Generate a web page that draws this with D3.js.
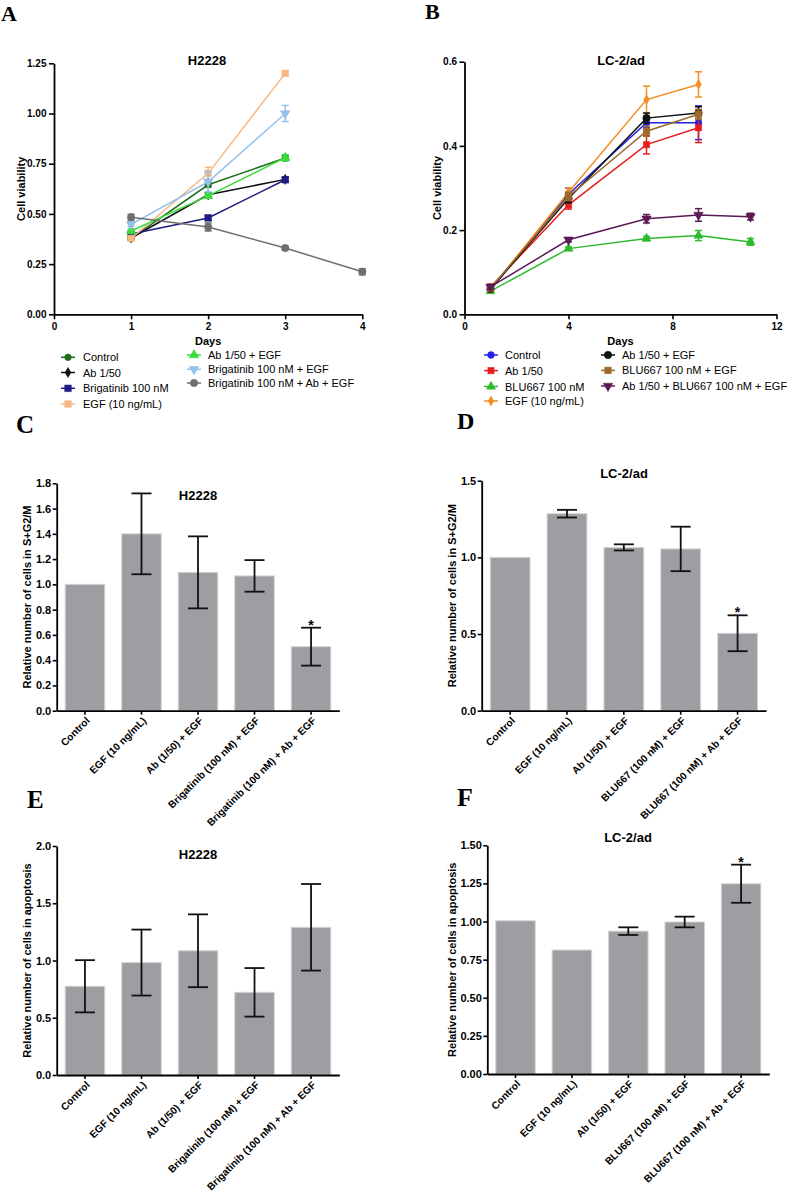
<!DOCTYPE html>
<html><head><meta charset="utf-8">
<script src="https://cdn.jsdelivr.net/npm/d3@7"></script>
<style>body{margin:0;background:#fff} text{font-family:"Liberation Sans",Arial,sans-serif}</style>
</head><body><svg id="c" width="787" height="1196"></svg>
<script>
// ---------- DATA ----------
// Panel A (H2228 viability)
const daysA = [1, 2, 3];
const daysA4 = [1, 2, 3, 4];
const namesA = ["Control", "Ab 1/50", "Brigatinib 100 nM", "EGF (10 ng/mL)", "Ab 1/50 + EGF", "Brigatinib 100 nM + EGF", "Brigatinib 100 nM + Ab + EGF"];
const aControl = [0.378, 0.645, 0.778];
const aControlErr = [0.008, 0.01, 0.012];
const aAb = [0.38, 0.595, 0.672];
const aAbErr = [0.008, 0.01, 0.01];
const aBrig = [0.40, 0.48, 0.67];
const aBrigErr = [0.01, 0.012, 0.012];
const aEgf = [0.378, 0.702, 1.20];
const aEgfErr = [0.01, 0.03, 0.01];
const aAbEgf = [0.415, 0.59, 0.78];
const aAbEgfErr = [0.01, 0.012, 0.015];
const aBrigEgf = [0.448, 0.66, 1.00];
const aBrigEgfErr = [0.01, 0.05, 0.04];
const aBrigAbEgf = [0.483, 0.435, 0.33, 0.212];
const aBrigAbEgfErr = [0.015, 0.02, 0.008, 0.015];
const ticksAy = [0, 0.25, 0.5, 0.75, 1.0, 1.25];
const ticksAx = [0, 1, 2, 3, 4];

// Panel B (LC-2/ad viability)
const daysB = [1, 4, 7, 9];
const daysB5 = [1, 4, 7, 9, 11];
const namesB = ["Control", "Ab 1/50", "BLU667 100 nM", "EGF (10 ng/mL)", "Ab 1/50 + EGF", "BLU667 100 nM + EGF", "Ab 1/50 + BLU667 100 nM + EGF"];
const bControl = [0.058, 0.285, 0.455, 0.455];
const bControlErr = [0.005, 0.015, 0.012, 0.04];
const bAb = [0.065, 0.26, 0.403, 0.443];
const bAbErr = [0.005, 0.01, 0.022, 0.035];
const bBlu = [0.055, 0.156, 0.18, 0.187, 0.172];
const bBluErr = [0.004, 0.004, 0.005, 0.012, 0.008];
const bEgf = [0.06, 0.29, 0.51, 0.546];
const bEgfErr = [0.005, 0.01, 0.032, 0.03];
const bAbEgf = [0.06, 0.275, 0.466, 0.478];
const bAbEgfErr = [0.005, 0.01, 0.012, 0.015];
const bBluEgf = [0.062, 0.28, 0.435, 0.475];
const bBluEgfErr = [0.005, 0.01, 0.012, 0.012];
const bAbBluEgf = [0.065, 0.177, 0.227, 0.236, 0.232];
const bAbBluEgfErr = [0.006, 0.005, 0.01, 0.015, 0.008];
const ticksBy = [0, 0.2, 0.4, 0.6];
const ticksBx = [0, 4, 8, 12];

// Bar panels
const catsH = ["Control", "EGF (10 ng/mL)", "Ab (1/50) + EGF", "Brigatinib (100 nM) + EGF", "Brigatinib (100 nM) + Ab + EGF"];
const catsL = ["Control", "EGF (10 ng/mL)", "Ab (1/50) + EGF", "BLU667 (100 nM) + EGF", "BLU667 (100 nM) + Ab + EGF"];
const cVals = [1.0, 1.40, 1.095, 1.067, 0.507];
const cErr = [0, 0.32, 0.285, 0.125, 0.15];
const dVals = [1.0, 1.285, 1.065, 1.055, 0.505];
const dErr = [0, 0.025, 0.02, 0.145, 0.117];
const eVals = [0.775, 0.982, 1.085, 0.722, 1.29];
const eErr = [0.228, 0.288, 0.318, 0.212, 0.378];
const fVals = [1.005, 0.813, 0.937, 0.997, 1.248];
const fErr = [0, 0, 0.025, 0.035, 0.125];
const ticksC = [0, 0.2, 0.4, 0.6, 0.8, 1.0, 1.2, 1.4, 1.6, 1.8];
const ticksD = [0, 0.5, 1.0, 1.5];
const ticksE = [0, 0.5, 1.0, 1.5, 2.0];
const ticksF = [0, 0.25, 0.5, 0.75, 1.0, 1.25, 1.5];

// ---------- DRAWING ----------
const svg = d3.select("#c");
svg.append("rect").attr("width", 787).attr("height", 1196).attr("fill", "#fff");

function styleAxis(a, fs) {
  a.select(".domain").attr("stroke", "#000").attr("stroke-width", 1.8);
  a.selectAll(".tick line").attr("stroke", "#000").attr("stroke-width", 1.6);
  a.selectAll(".tick text").attr("fill", "#000").style("font-weight", "bold")
    .style("font-size", fs + "px").style("font-family", '"Liberation Sans",Arial,sans-serif');
}

function symPath(kind, size) {
  const types = {circle: d3.symbolCircle, square: d3.symbolSquare, diamond: d3.symbolDiamond, tri: d3.symbolTriangle, triDown: d3.symbolTriangle};
  return d3.symbol().type(types[kind]).size(size)();
}
function addMarker(g, kind, cx, cy, color, size) {
  g.append("path").attr("d", symPath(kind, size))
    .attr("transform", `translate(${cx},${cy})` + (kind === "triDown" ? " rotate(180)" : ""))
    .attr("fill", color).attr("stroke", color).attr("stroke-width", 0.5);
}

function panelLetter(t, x, y, fs) {
  svg.append("text").attr("x", x).attr("y", y).text(t)
    .style("font-family", '"Liberation Serif","Times New Roman",serif')
    .style("font-weight", "bold").style("font-size", fs + "px");
}
function title(t, x, y) {
  svg.append("text").attr("x", x).attr("y", y).attr("text-anchor", "middle").text(t)
    .style("font-weight", "bold").style("font-size", "13px");
}
function yLabel(t, x, y) {
  svg.append("text").attr("transform", `translate(${x},${y}) rotate(-90)`)
    .attr("text-anchor", "middle").attr("dy", "0.35em").text(t)
    .style("font-weight", "bold").style("font-size", "11px");
}

function lineChart(cfg) {
  const g = svg.append("g");
  const x = d3.scaleLinear().domain(cfg.xDomain).range(cfg.xRange);
  const y = d3.scaleLinear().domain(cfg.yDomain).range(cfg.yRange);
  const ya = g.append("g").attr("transform", `translate(${cfg.xRange[0]},0)`)
    .call(d3.axisLeft(y).tickValues(cfg.yTicks).tickFormat(d3.format(cfg.yFmt)).tickSize(5).tickSizeOuter(0).tickPadding(2.5));
  const xa = g.append("g").attr("transform", `translate(0,${cfg.yRange[0]})`)
    .call(d3.axisBottom(x).tickValues(cfg.xTicks).tickFormat(d3.format("d")).tickSize(5).tickSizeOuter(0).tickPadding(4));
  styleAxis(ya, 10); styleAxis(xa, 10);
  g.append("text").attr("x", (cfg.xRange[0] + cfg.xRange[1]) / 2).attr("y", cfg.yRange[0] + 31)
    .attr("text-anchor", "middle").text("Days").style("font-weight", "bold").style("font-size", "11px");
  cfg.series.forEach(s => {
    const pts = s.days.map((d, i) => ({d: d, v: s.vals[i], e: s.errs[i]}));
    g.append("path").datum(pts)
      .attr("d", d3.line().x(p => x(p.d)).y(p => y(p.v)))
      .attr("fill", "none").attr("stroke", s.color).attr("stroke-width", 1.5);
    pts.forEach(p => {
      const cx = x(p.d), y1 = y(p.v - p.e), y2 = y(p.v + p.e);
      g.append("line").attr("x1", cx).attr("x2", cx).attr("y1", y1).attr("y2", y2).attr("stroke", s.color).attr("stroke-width", 1.5);
      [y1, y2].forEach(yy => g.append("line").attr("x1", cx - 3.5).attr("x2", cx + 3.5).attr("y1", yy).attr("y2", yy).attr("stroke", s.color).attr("stroke-width", 1.5));
      addMarker(g, s.sym, cx, y(p.v), s.color, s.size || 40);
    });
  });
  // legend
  cfg.legend.forEach((L, i) => {
    const s = cfg.series[i];
    g.append("line").attr("x1", L.x - 7).attr("x2", L.x + 7).attr("y1", L.y).attr("y2", L.y).attr("stroke", s.color).attr("stroke-width", 1.5);
    addMarker(g, s.sym, L.x, L.y, s.color, s.size || 40);
    g.append("text").attr("x", L.tx).attr("y", L.y + 4).text(s.name).style("font-size", "11px");
  });
}

function barChart(cfg) {
  const g = svg.append("g");
  const x = d3.scaleBand().domain(cfg.cats).range(cfg.xRange).paddingInner(0.3).paddingOuter(0.15);
  const y = d3.scaleLinear().domain(cfg.yDomain).range(cfg.yRange);
  cfg.cats.forEach((c, i) => {
    const v = cfg.vals[i], e = cfg.errs[i];
    g.append("rect").attr("x", x(c)).attr("y", y(v)).attr("width", x.bandwidth()).attr("height", y(0) - y(v))
      .attr("fill", "#9e9ea2").attr("stroke", "#d4d4d6").attr("stroke-width", 1);
    const cx = x(c) + x.bandwidth() / 2;
    if (e > 0) {
      const y1 = y(v - e), y2 = y(v + e);
      g.append("line").attr("x1", cx).attr("x2", cx).attr("y1", y1).attr("y2", y2).attr("stroke", "#111").attr("stroke-width", 1.8);
      [y1, y2].forEach(yy => g.append("line").attr("x1", cx - 10).attr("x2", cx + 10).attr("y1", yy).attr("y2", yy).attr("stroke", "#111").attr("stroke-width", 1.8));
    }
    if (cfg.stars.indexOf(i) >= 0) {
      g.append("text").attr("x", cx).attr("y", y(v + e) + 2).attr("text-anchor", "middle").text("*")
        .style("font-weight", "bold").style("font-size", "14px");
    }
  });
  const ya = g.append("g").attr("transform", `translate(${cfg.xRange[0]},0)`)
    .call(d3.axisLeft(y).tickValues(cfg.yTicks).tickFormat(d3.format(cfg.yFmt)).tickSize(4).tickSizeOuter(0).tickPadding(1.5));
  const xa = g.append("g").attr("transform", `translate(0,${cfg.yRange[0]})`)
    .call(d3.axisBottom(x).tickSize(4).tickSizeOuter(0));
  styleAxis(ya, 11); styleAxis(xa, 10.2);
  xa.selectAll(".tick text").attr("x", 0).attr("y", 0).attr("dy", "0.35em")
    .attr("text-anchor", "end").attr("transform", "translate(3,8) rotate(-45)");
}

// Panel A
lineChart({
  xDomain: [0, 4], xRange: [54, 362.3], yDomain: [0, 1.25], yRange: [314.3, 63.3],
  yTicks: ticksAy, yFmt: ".2f", xTicks: ticksAx,
  series: [
    {name: namesA[0], days: daysA, vals: aControl, errs: aControlErr, color: "#1f6e1f", sym: "circle", size: 36},
    {name: namesA[1], days: daysA, vals: aAb, errs: aAbErr, color: "#111111", sym: "diamond", size: 30},
    {name: namesA[2], days: daysA, vals: aBrig, errs: aBrigErr, color: "#1c1c84", sym: "square", size: 44},
    {name: namesA[3], days: daysA, vals: aEgf, errs: aEgfErr, color: "#f4b886", sym: "square", size: 44},
    {name: namesA[4], days: daysA, vals: aAbEgf, errs: aAbEgfErr, color: "#3ddc3d", sym: "tri", size: 40},
    {name: namesA[5], days: daysA, vals: aBrigEgf, errs: aBrigEgfErr, color: "#93c1ec", sym: "triDown", size: 40},
    {name: namesA[6], days: daysA4, vals: aBrigAbEgf, errs: aBrigAbEgfErr, color: "#6e6e6e", sym: "circle", size: 44}
  ],
  legend: [
    {x: 68, tx: 83, y: 357.3}, {x: 68, tx: 83, y: 372.5}, {x: 68, tx: 83, y: 388.3}, {x: 68, tx: 83, y: 404},
    {x: 194, tx: 208, y: 355}, {x: 194, tx: 208, y: 369.3}, {x: 194, tx: 208, y: 383}
  ]
});
title("H2228", 207, 65);
yLabel("Cell viability", 20.7, 188.8);
panelLetter("A", 1, 21, 22);

// Panel B
lineChart({
  xDomain: [0, 12], xRange: [464.5, 776.5], yDomain: [0, 0.6], yRange: [314.3, 61.7],
  yTicks: ticksBy, yFmt: ".1f", xTicks: ticksBx,
  series: [
    {name: namesB[0], days: daysB, vals: bControl, errs: bControlErr, color: "#2020e6", sym: "circle", size: 36},
    {name: namesB[1], days: daysB, vals: bAb, errs: bAbErr, color: "#e61e1e", sym: "square", size: 40},
    {name: namesB[2], days: daysB5, vals: bBlu, errs: bBluErr, color: "#2dbb2d", sym: "tri", size: 36},
    {name: namesB[3], days: daysB, vals: bEgf, errs: bEgfErr, color: "#f28e22", sym: "diamond", size: 28},
    {name: namesB[4], days: daysB, vals: bAbEgf, errs: bAbEgfErr, color: "#111111", sym: "circle", size: 44},
    {name: namesB[5], days: daysB, vals: bBluEgf, errs: bBluEgfErr, color: "#9c6a2e", sym: "square", size: 44},
    {name: namesB[6], days: daysB5, vals: bAbBluEgf, errs: bAbBluEgfErr, color: "#5b1a55", sym: "triDown", size: 40}
  ],
  legend: [
    {x: 491, tx: 505, y: 355}, {x: 491, tx: 505, y: 370.6}, {x: 491, tx: 505, y: 386.5}, {x: 491, tx: 505, y: 401},
    {x: 608, tx: 622, y: 355}, {x: 608, tx: 622, y: 370.4}, {x: 608, tx: 622, y: 386}
  ]
});
title("LC-2/ad", 621, 65);
yLabel("Cell viability", 436.7, 188);
panelLetter("B", 425, 18.5, 22);

// Panel C
barChart({cats: catsH, vals: cVals, errs: cErr, xRange: [56.7, 339.3], yDomain: [0, 1.8], yRange: [710.7, 483.3], yTicks: ticksC, yFmt: ".1f", stars: [4]});
title("H2228", 198, 500);
yLabel("Relative number of cells in S+G2/M", 27.3, 597);
panelLetter("C", 16, 433, 25);

// Panel D
barChart({cats: catsL, vals: dVals, errs: dErr, xRange: [481.7, 766], yDomain: [0, 1.5], yRange: [710.7, 480.7], yTicks: ticksD, yFmt: ".1f", stars: [4]});
title("LC-2/ad", 624, 478);
yLabel("Relative number of cells in S+G2/M", 451.7, 595.7);
panelLetter("D", 457, 429, 24);

// Panel E
barChart({cats: catsH, vals: eVals, errs: eErr, xRange: [56.7, 339.3], yDomain: [0, 2.0], yRange: [1075, 846], yTicks: ticksE, yFmt: ".1f", stars: []});
title("H2228", 198, 858.5);
yLabel("Relative number of cells in apoptosis", 27.3, 960.5);
panelLetter("E", 27, 808, 25);

// Panel F
barChart({cats: catsL, vals: fVals, errs: fErr, xRange: [487.3, 769.3], yDomain: [0, 1.5], yRange: [1074, 845.3], yTicks: ticksF, yFmt: ".2f", stars: [4]});
title("LC-2/ad", 628, 841.5);
yLabel("Relative number of cells in apoptosis", 451.7, 959.7);
panelLetter("F", 457, 806, 26);
</script></body></html>
